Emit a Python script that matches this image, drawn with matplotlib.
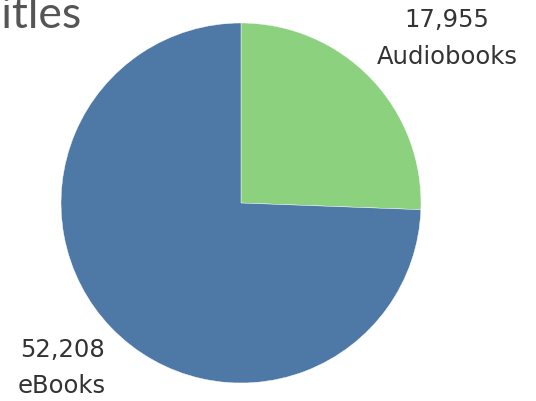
import matplotlib
matplotlib.use('Agg')
import matplotlib.pyplot as plt

labels = ['Audiobooks', 'eBooks']
values = [17955, 52208]
colors = ['#8cd17d', '#4e79a7']

W, H = 536, 401
fig = plt.figure(figsize=(W / 100, H / 100), dpi=100)
plt.rcParams['font.family'] = ['DejaVu Sans']

cx, cy, r = 241, 203, 180
ax = fig.add_axes([(cx - r) / W, (H - cy - r) / H, 2 * r / W, 2 * r / H])
ax.pie(values, colors=colors, startangle=90, counterclock=False,
       wedgeprops={'edgecolor': 'white', 'linewidth': 0.3})
ax.set_xlim(-1, 1)
ax.set_ylim(-1, 1)
ax.set_aspect('equal')
ax.axis('off')

# title is partly off the left edge, as in the original
fig.text(82 / W, 1 - 28 / H, 'Titles', ha='right', va='baseline',
         fontsize=32, color='#555555', family=['Lato', 'DejaVu Sans'])

txt = '#333333'
fs = 17.5
fig.text(447 / W, 1 - 27 / H, f'{values[0]:,}', ha='center', va='baseline', fontsize=fs, color=txt)
fig.text(447 / W, 1 - 64 / H, labels[0], ha='center', va='baseline', fontsize=fs, color=txt)
fig.text(62 / W, 1 - 357 / H, f'{values[1]:,}', ha='center', va='baseline', fontsize=fs, color=txt)
fig.text(62 / W, 1 - 393 / H, labels[1], ha='center', va='baseline', fontsize=fs, color=txt)

fig.savefig('out.png', dpi=100)
